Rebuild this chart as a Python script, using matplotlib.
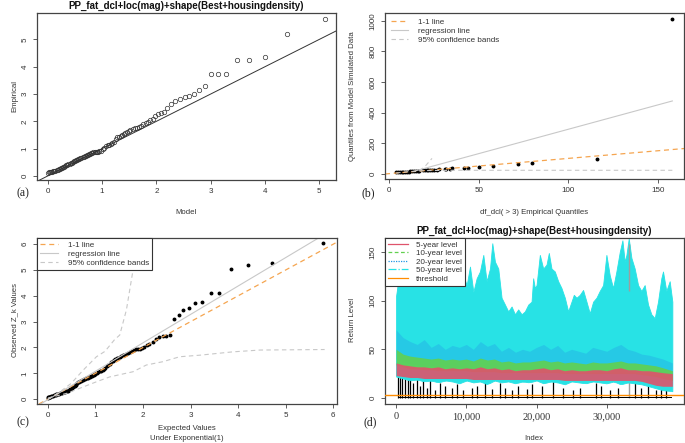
import numpy as np
import matplotlib
matplotlib.use("Agg")
import matplotlib.pyplot as plt
from matplotlib.lines import Line2D

plt.rcParams['font.family'] = ['Liberation Sans', 'DejaVu Sans']

W, H = 685, 443
TITLE = "PP_fat_dcl+loc(mag)+shape(Best+housingdensity)"

# ---- (a) model vs empirical quantiles
a_model = [0.00, 0.02, 0.04, 0.06, 0.08, 0.10, 0.12, 0.14, 0.16, 0.18, 0.20, 0.22, 0.24, 0.26, 0.28,
           0.30, 0.32, 0.34, 0.36, 0.38, 0.40, 0.42, 0.44, 0.46, 0.48, 0.50, 0.52, 0.54, 0.56, 0.58,
           0.60, 0.62, 0.64, 0.66, 0.68, 0.70, 0.72, 0.74, 0.76, 0.78, 0.80, 0.82, 0.84, 0.86, 0.88,
           0.90, 0.92, 0.95, 0.98, 1.01, 1.04, 1.07, 1.10, 1.13, 1.16, 1.19, 1.22, 1.25, 1.28, 1.31,
           1.34, 1.37, 1.40, 1.43, 1.46, 1.49, 1.52, 1.56, 1.60, 1.64, 1.68, 1.72, 1.76, 1.80, 1.84,
           1.88, 1.93, 1.98, 2.03, 2.08, 2.14, 2.20, 2.27, 2.35, 2.44, 2.52, 2.60, 2.70, 2.79, 2.89,
           3.01, 3.14, 3.29, 3.49, 3.70, 4.01, 4.41, 5.10]
a_empirical = [0.12, 0.14, 0.13, 0.15, 0.16, 0.17, 0.17, 0.19, 0.21, 0.22, 0.24, 0.26, 0.28, 0.30, 0.32,
               0.34, 0.37, 0.39, 0.41, 0.42, 0.45, 0.47, 0.48, 0.50, 0.53, 0.55, 0.57, 0.60, 0.62, 0.63,
               0.65, 0.67, 0.68, 0.70, 0.72, 0.73, 0.75, 0.78, 0.80, 0.81, 0.83, 0.84, 0.86, 0.86, 0.87,
               0.88, 0.89, 0.91, 0.93, 0.97, 1.02, 1.08, 1.12, 1.14, 1.16, 1.19, 1.25, 1.36, 1.42, 1.44,
               1.46, 1.49, 1.52, 1.56, 1.62, 1.65, 1.69, 1.72, 1.75, 1.76, 1.80, 1.84, 1.90, 1.95, 1.99,
               2.04, 2.10, 2.20, 2.28, 2.32, 2.36, 2.50, 2.62, 2.76, 2.82, 2.91, 2.94, 3.00, 3.13, 3.30,
               3.72, 3.75, 3.75, 4.25, 4.25, 4.37, 5.19, 5.75]

# ---- (b) empirical vs simulated quantiles
b_emp = [4, 5, 6, 7, 8, 9, 10, 11, 12, 13, 14, 15, 16, 17, 19, 20, 21, 22, 23, 24, 25, 27, 28,
         31, 32, 34, 35, 42, 44, 50, 58, 72, 80, 116, 158]
b_sim = [8, 9, 10, 11, 12, 13, 13, 14, 15, 16, 17, 18, 19, 20, 21, 22, 22, 23, 24, 25, 26, 27, 28,
         30, 31, 32, 34, 38, 40, 45, 52, 61, 72, 94, 1012]
b_reg_x = [14, 158]
b_reg_y = [16, 476]
b_up_x = [17, 20, 24]
b_up_y = [20, 46, 100]
b_lo_x = [4, 10, 20, 35, 158]
b_lo_y = [4, 12, 20, 22, 22]

# ---- (c) Z_k vs exponential quantiles
c_exp = [0.00, 0.01, 0.02, 0.03, 0.04, 0.05, 0.06, 0.08, 0.10, 0.12, 0.14, 0.16, 0.18, 0.20, 0.22,
         0.24, 0.26, 0.28, 0.30, 0.32, 0.34, 0.36, 0.38, 0.40, 0.42, 0.44, 0.46, 0.48, 0.50, 0.52,
         0.54, 0.56, 0.58, 0.60, 0.62, 0.64, 0.66, 0.68, 0.70, 0.72, 0.74, 0.76, 0.78, 0.80, 0.82,
         0.84, 0.86, 0.88, 0.90, 0.92, 0.94, 0.96, 0.98, 1.00, 1.03, 1.06, 1.09, 1.12, 1.15, 1.18,
         1.21, 1.24, 1.27, 1.30, 1.33, 1.36, 1.39, 1.42, 1.45, 1.48, 1.51, 1.54, 1.57, 1.61, 1.65,
         1.69, 1.73, 1.77, 1.81, 1.85, 1.89, 1.93, 1.98, 2.03, 2.08, 2.13, 2.20, 2.27, 2.34, 2.41,
         2.48, 2.56, 2.65, 2.75, 2.84, 2.96, 3.09, 3.24, 3.42, 3.60, 3.85, 4.21, 4.72, 5.79]
c_obs = [0.05, 0.07, 0.08, 0.09, 0.10, 0.10, 0.11, 0.12, 0.13, 0.15, 0.16, 0.17, 0.18, 0.20, 0.20,
         0.21, 0.22, 0.24, 0.25, 0.26, 0.27, 0.28, 0.30, 0.31, 0.33, 0.35, 0.38, 0.40, 0.43, 0.46,
         0.49, 0.52, 0.55, 0.58, 0.62, 0.66, 0.68, 0.70, 0.72, 0.73, 0.74, 0.76, 0.78, 0.80, 0.81,
         0.82, 0.84, 0.86, 0.88, 0.91, 0.93, 0.95, 0.97, 0.99, 1.02, 1.06, 1.08, 1.10, 1.13, 1.17,
         1.22, 1.27, 1.32, 1.37, 1.42, 1.48, 1.52, 1.55, 1.58, 1.61, 1.64, 1.67, 1.70, 1.72, 1.74,
         1.77, 1.82, 1.87, 1.91, 1.93, 1.94, 1.95, 1.97, 2.02, 2.08, 2.13, 2.22, 2.32, 2.41, 2.44,
         2.45, 2.48, 3.10, 3.25, 3.47, 3.54, 3.73, 3.77, 4.12, 4.12, 5.02, 5.19, 5.28, 6.03]
c_reg_x = [-0.3, 6.3]
c_reg_y = [-0.35, 6.91]
c_up_x = [0.0, 0.25, 0.49, 0.74, 1.02, 1.2, 1.4, 1.51, 1.65, 1.79, 1.9]
c_up_y = [0.0, 0.28, 0.61, 1.12, 1.64, 1.85, 2.3, 2.48, 3.45, 5.0, 6.5]
c_lo_x = [0.0, 0.39, 1.02, 1.3, 1.79, 2.07, 2.42, 2.77, 3.19, 3.89, 4.46, 5.82]
c_lo_y = [0.04, 0.22, 0.67, 0.86, 1.06, 1.32, 1.45, 1.64, 1.70, 1.83, 1.90, 1.92]

# ---- (d) return levels
rl50_idx = [0, 470, 950, 1420, 1900, 2370, 2850, 3320, 3800, 4270, 4750, 5220, 5700, 6170, 6650,
            7120, 7600, 8070, 8550, 9020, 9570, 10050, 10520, 11000, 11470, 11940, 12420, 12890,
            13370, 13700, 14080, 14550, 15020, 15500, 15970, 16450, 16920, 17390, 17870, 18340,
            18820, 19290, 19520, 19760, 20000, 20470, 20950, 21420, 21750, 22130, 22600, 23080,
            23550, 24030, 24500, 24980, 25310, 25690, 26160, 26630, 27110, 27580, 28060, 28530,
            29000, 29480, 29950, 30430, 30900, 31370, 31850, 32230, 32560, 32800, 33130, 33510,
            33980, 34460, 34930, 35400, 35880, 36350, 36830, 37300, 37770, 38010, 38480, 38960, 39340]
rl50_hi = [105, 128, 135, 122, 140, 125, 138, 130, 142, 128, 136, 124, 140, 130, 138,
           126, 135, 128, 140, 124, 126, 116, 135, 109, 123, 130, 147, 120,
           133, 159, 140, 133, 103, 96, 89, 94, 86, 91, 86, 89,
           96, 99, 123, 113, 116, 147, 133, 137, 149, 133, 130, 120,
           113, 103, 89, 99, 106, 103, 106, 111, 99, 87, 99, 103,
           110, 116, 147, 126, 113, 130, 150, 162, 140, 147, 164, 144,
           133, 116, 110, 116, 96, 86, 82, 99, 123, 130, 110, 120, 99]

band_idx = [0, 1000, 2000, 3000, 4000, 5000, 6000, 7000, 8000, 9000, 10000, 11000, 12000, 13000,
            14000, 15000, 16000, 17000, 18000, 19000, 20000, 21000, 22000, 23000, 24000, 25000,
            26000, 27000, 28000, 29000, 30000, 31000, 32000, 33000, 34000, 35000, 36000, 37000,
            38000, 39340]
rl50_lo = [22, 20, 18, 19, 17, 18, 16, 18, 17, 15, 18, 16, 17, 14, 18, 16, 17, 15, 17, 16,
           18, 15, 17, 16, 14, 17, 16, 15, 17, 16, 15, 17, 14, 16, 15, 14, 12, 10, 8, 7]
rl20_hi = [70, 62, 58, 55, 60, 52, 56, 50, 54, 52, 55, 50, 58, 53, 56, 48, 52, 47, 50, 48,
           52, 55, 50, 54, 47, 50, 48, 46, 52, 50, 48, 52, 55, 50, 48, 45, 44, 42, 40, 36]
rl20_lo = [40, 37, 35, 34, 33, 33, 32, 32, 31, 31, 31, 30, 30, 30, 30, 29, 29, 29, 29, 29,
           29, 29, 29, 29, 28, 28, 28, 28, 28, 28, 28, 28, 28, 28, 27, 27, 25, 24, 22, 20]
rl10_hi = [50, 45, 43, 42, 41, 40, 41, 39, 40, 39, 40, 38, 41, 39, 40, 37, 38, 36, 37, 37,
           38, 39, 37, 38, 36, 37, 36, 35, 37, 36, 36, 37, 38, 36, 36, 35, 34, 33, 31, 28]
rl10_lo = [34, 32, 30, 30, 29, 29, 28, 28, 28, 28, 28, 27, 27, 27, 27, 26, 26, 26, 26, 26,
           26, 26, 26, 26, 25, 25, 25, 25, 25, 25, 25, 25, 25, 25, 25, 24, 23, 22, 20, 18]
rl5_hi = [36, 34, 33, 32, 32, 31, 32, 30, 31, 30, 31, 30, 32, 30, 31, 29, 30, 28, 29, 29,
          30, 31, 29, 30, 28, 29, 28, 28, 29, 29, 28, 30, 31, 29, 29, 28, 28, 27, 26, 25]
rl5_lo = [23, 22, 21, 21, 20, 20, 20, 20, 20, 20, 20, 19, 19, 19, 19, 19, 19, 19, 19, 19,
          19, 19, 19, 19, 18, 18, 18, 18, 18, 18, 18, 18, 18, 18, 18, 17, 15, 13, 12, 12]

obs_idx = [237, 569, 900, 1280, 1660, 1990, 2470, 2940, 3410, 3890, 4360, 4840, 5550, 6260, 6970,
           7910, 8630, 9570, 10750, 11470, 12650, 13600, 14790, 15500, 16450, 17390, 18580, 19290,
           20710, 22370, 23790, 25210, 26160, 28530, 29240, 30430, 31610, 33980, 34930, 35880,
           37060, 37770, 38480]
obs_val = [115, 30, 25, 35, 20, 28, 15, 22, 12, 18, 10, 20, 8, 15, 12,
           10, 14, 8, 10, 12, 18, 9, 15, 10, 8, 12, 9, 14,
           12, 25, 10, 8, 10, 15, 12, 8, 10, 20, 10, 18,
           8, 10, 12]
grey_idx = [33130]
grey_val = [158]
floor_level = 1.5
threshold = 3

CYAN, BLUE, GREEN, RED = '#28E2E5', '#2297E6', '#61D04F', '#DF536B'
ORANGE = '#FF8C00'
TXT = '#333333'

fig = plt.figure(figsize=(W / 100, H / 100), dpi=100)


def box(l, t, r, b):
    return [l / W, 1 - b / H, (r - l) / W, (b - t) / H]


def style(ax):
    for s in ax.spines.values():
        s.set_color('#444444')
        s.set_linewidth(0.9)
    ax.tick_params(length=3, width=0.6, color='#444444', labelsize=5.8,
                   labelcolor=TXT, pad=3)
    ax.tick_params(axis='y', labelrotation=90)
    for lab in ax.get_yticklabels():
        lab.set_va('center')


def ftext(x, y, s, **kw):
    kw.setdefault('color', TXT)
    kw.setdefault('ha', 'center')
    kw.setdefault('va', 'center')
    fig.text(x / W, 1 - y / H, s, **kw)


# (a)
ax = fig.add_axes(box(37, 13, 336, 180))
ax.plot(a_model, a_empirical, 'o', mfc='none', mec='#333333', ms=3.2, mew=0.5)
ax.axline((0, 0), slope=1, color='#333333', lw=0.7)
ax.set_xlim(-0.2, 5.31)
ax.set_ylim(-0.15, 5.97)
ax.set_xticks([0, 1, 2, 3, 4, 5])
ax.set_yticks([0, 1, 2, 3, 4, 5])
style(ax)
ftext(186, 6, TITLE, fontsize=7, fontweight='bold', color='#111111')
ftext(186, 213, "Model", fontsize=5.6)
ftext(15, 96, "Empirical", fontsize=5.6, rotation=90)
ftext(23, 193, "(a)", fontsize=8.5, family='Liberation Serif', color='#222222')

# (b)
ax = fig.add_axes(box(385, 13, 684, 179))
ax.plot(b_emp, b_sim, 'o', color='black', ms=1.8)
ax.axline((0, 0), slope=1, color='#F5A550', lw=0.9, ls=(0, (4, 3)))
ax.plot(b_reg_x, b_reg_y, color='#C8C8C8', lw=0.8)
ax.plot(b_up_x, b_up_y, color='#C8C8C8', lw=0.8, ls=(0, (4, 3)))
ax.plot(b_lo_x, b_lo_y, color='#C8C8C8', lw=0.8, ls=(0, (4, 3)))
ax.set_xlim(-2.2, 164.5)
ax.set_ylim(-35, 1052)
ax.set_xticks([0, 50, 100, 150])
ax.set_yticks([0, 200, 400, 600, 800, 1000])
style(ax)
hb = [Line2D([], [], color='#F5A550', lw=0.9, ls=(0, (4, 3))),
      Line2D([], [], color='#C8C8C8', lw=0.8),
      Line2D([], [], color='#C8C8C8', lw=0.8, ls=(0, (4, 3)))]
ax.legend(hb, ["1-1 line", "regression line", "95% confidence bands"], loc='upper left',
          frameon=False, fontsize=5.8, handlelength=2.2, handletextpad=1.2,
          borderaxespad=0.3, labelspacing=0.15, labelcolor=TXT)
ftext(534, 212, "df_dcl( > 3) Empirical Quantiles", fontsize=5.6)
ftext(353, 96, "Quantiles from Model Simulated Data", fontsize=5.6, rotation=90)
ftext(368, 193, "(b)", fontsize=8.5, family='Liberation Serif', color='#222222')

# (c)
ax = fig.add_axes(box(37, 238, 337, 404))
ax.plot(c_exp, c_obs, 'o', color='black', ms=1.8)
ax.axline((0, 0), slope=1, color='#F5A550', lw=0.9, ls=(0, (4, 3)))
ax.plot(c_reg_x, c_reg_y, color='#C8C8C8', lw=0.8)
ax.plot(c_up_x, c_up_y, color='#C8C8C8', lw=0.8, ls=(0, (4, 3)))
ax.plot(c_lo_x, c_lo_y, color='#C8C8C8', lw=0.8, ls=(0, (4, 3)))
ax.set_xlim(-0.23, 6.08)
ax.set_ylim(-0.19, 6.24)
ax.set_xticks([0, 1, 2, 3, 4, 5, 6])
ax.set_yticks([0, 1, 2, 3, 4, 5, 6])
style(ax)
leg = ax.legend(hb, ["1-1 line", "regression line", "95% confidence bands"], loc='upper left',
                fontsize=5.8, handlelength=2.2, handletextpad=1.2, borderaxespad=0,
                labelspacing=0.15, fancybox=False, edgecolor='#333333', framealpha=1,
                labelcolor=TXT)
leg.get_frame().set_linewidth(0.8)
ftext(187, 428, "Expected Values", fontsize=5.6)
ftext(187, 439, "Under Exponential(1)", fontsize=5.6)
ftext(15, 320, "Observed Z_k Values", fontsize=5.6, rotation=90)
ftext(23, 422, "(c)", fontsize=8.5, family='Liberation Serif', color='#222222')

# (d)
ax = fig.add_axes(box(385, 238, 684, 404))
ax.vlines(obs_idx, 0, obs_val, color='black', lw=0.9, zorder=1)
ax.vlines(grey_idx, 0, grey_val, color='#9E9E9E', lw=1.0, zorder=1)
ax.fill_between([obs_idx[0], band_idx[-1]], 0, floor_level, color='black', lw=0, zorder=1)
ax.fill_between(rl50_idx, np.interp(rl50_idx, band_idx, rl50_lo), rl50_hi,
                color=CYAN, lw=0.6, edgecolor=CYAN, zorder=2)
ax.vlines(grey_idx, 110, grey_val, color='#9E9E9E', lw=1.0, zorder=2.5)
ax.fill_between(band_idx, rl20_lo, rl20_hi, color=BLUE, alpha=0.33, lw=0, zorder=3)
ax.fill_between(band_idx, rl10_lo, rl10_hi, color=GREEN, alpha=0.9, lw=0, zorder=4)
ax.fill_between(band_idx, rl5_lo, rl5_hi, color=RED, alpha=0.9, lw=0, zorder=5)
ax.axhline(threshold, color=ORANGE, lw=1.0, zorder=6)
ax.set_xlim(-1580, 41000)
ax.set_ylim(-6.2, 164.4)
ax.set_xticks([0, 10000, 20000, 30000])
ax.set_xticklabels(["0", "10,000", "20,000", "30,000"])
ax.set_yticks([0, 50, 100, 150])
style(ax)
for lab in ax.get_xticklabels():
    lab.set_family('Liberation Serif')
    lab.set_fontsize(7.5)
hd = [Line2D([], [], color=RED, lw=0.9),
      Line2D([], [], color=GREEN, lw=0.9, ls=(0, (3, 2))),
      Line2D([], [], color=BLUE, lw=0.9, ls=(0, (1, 1))),
      Line2D([], [], color=CYAN, lw=0.9, ls='-.'),
      Line2D([], [], color=ORANGE, lw=0.9)]
leg = ax.legend(hd, ["5-year level", "10-year level", "20-year level", "50-year level", "threshold"],
                loc='upper left', fontsize=5.8, handlelength=2.4, handletextpad=1.0,
                borderaxespad=0, labelspacing=0.1, fancybox=False, edgecolor='#333333',
                framealpha=1, labelcolor=TXT)
leg.get_frame().set_linewidth(0.8)
leg.set_zorder(10)
ftext(534, 231, TITLE, fontsize=7, fontweight='bold', color='#111111')
ftext(534, 438, "Index", fontsize=5.6)
ftext(353, 320, "Return Level", fontsize=5.6, rotation=90)
ftext(370, 422, "(d)", fontsize=8.5, family='Liberation Serif', color='#222222')

fig.savefig("out.png", dpi=100)
